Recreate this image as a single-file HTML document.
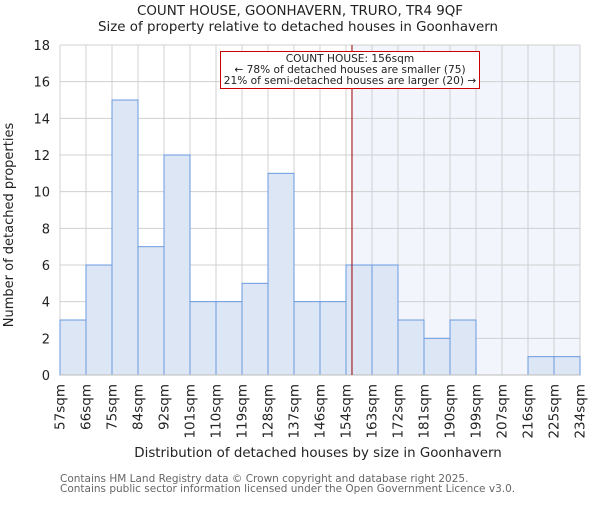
<!DOCTYPE html>
<html><head><meta charset="utf-8"><style>
body{margin:0;background:#fff}
svg text{font-family:"DejaVu Sans","Liberation Sans",sans-serif;fill:#222}
</style></head><body>
<svg id="chart" width="600" height="500" xmlns="http://www.w3.org/2000/svg">
<text x="300" y="15" text-anchor="middle" font-size="13.4">COUNT HOUSE, GOONHAVERN, TRURO, TR4 9QF</text>
<text x="298" y="31" text-anchor="middle" font-size="13.4">Size of property relative to detached houses in Goonhavern</text>
<g id="plot"></g>
<text x="318" y="457" text-anchor="middle" font-size="13.4">Distribution of detached houses by size in Goonhavern</text>
<text transform="translate(13,225) rotate(-90)" text-anchor="middle" font-size="13">Number of detached properties</text>
<text x="60" y="482" font-size="10.5" style="fill:#666">Contains HM Land Registry data © Crown copyright and database right 2025.</text>
<text x="60" y="492" font-size="10.5" style="fill:#666">Contains public sector information licensed under the Open Government Licence v3.0.</text>
</svg>
<script>
const binLabels=["57sqm","66sqm","75sqm","84sqm","92sqm","101sqm","110sqm","119sqm","128sqm","137sqm","146sqm","154sqm","163sqm","172sqm","181sqm","190sqm","199sqm","207sqm","216sqm","225sqm","234sqm"];
const counts=[3,6,15,7,12,4,4,5,11,4,4,6,6,3,2,3,0,0,1,1];
const yTicks=[0,2,4,6,8,10,12,14,16,18];
const markerBinIndex=11;
const markerFraction=0.23;
const NS="http://www.w3.org/2000/svg";
const g=document.getElementById('plot');
const X0=60,X1=580,Y0=375,Y1=45,YMAX=18;
const bw=(X1-X0)/counts.length;
const xs=i=>X0+i*bw;
const ys=v=>Y0-(v/YMAX)*(Y0-Y1);
function mk(t,a){const e=document.createElementNS(NS,t);for(const k in a)e.setAttribute(k,a[k]);g.appendChild(e);return e;}
const mx=xs(markerBinIndex+markerFraction);
let e=mk('rect',{x:mx,y:Y1,width:X1-mx,height:Y0-Y1,fill:'#f2f5fc'});


for(const t of yTicks){e=mk('line',{x1:X0,x2:X1,y1:ys(t),y2:ys(t),stroke:'#d0d0d0','stroke-width':1});


e=mk('text',{x:X0-10,y:ys(t)+5,'text-anchor':'end','font-size':13});e.textContent=t;

}
for(let i=0;i<=counts.length;i++){e=mk('line',{x1:xs(i),x2:xs(i),y1:Y1,y2:Y0,stroke:'#d0d0d0','stroke-width':1});

}
counts.forEach((c,i)=>{if(c<=0)return;e=mk('rect',{x:xs(i),y:ys(c),width:bw,height:Y0-ys(c),fill:'#dce6f4',stroke:'#6a9ae0','stroke-width':1});

});
e=mk('line',{x1:X0,x2:X1,y1:Y0,y2:Y0,stroke:'#bbb','stroke-width':1});


binLabels.forEach((l,i)=>{e=mk('text',{transform:`translate(${xs(i)+4.5},${Y0+9}) rotate(-90)`,'text-anchor':'end','font-size':13.5});e.textContent=l;

});
e=mk('line',{x1:mx,x2:mx,y1:Y1,y2:Y0,stroke:'#990000','stroke-width':1});


e=mk('rect',{x:220.5,y:51.5,width:259,height:37,fill:'#fff',stroke:'#cc0000','stroke-width':1});


["COUNT HOUSE: 156sqm","← 78% of detached houses are smaller (75)","21% of semi-detached houses are larger (20) →"].forEach((t,i)=>{
e=mk('text',{x:350,y:62+i*11,'text-anchor':'middle','font-size':10.6});e.textContent=t;

});
</script>
</body></html>
